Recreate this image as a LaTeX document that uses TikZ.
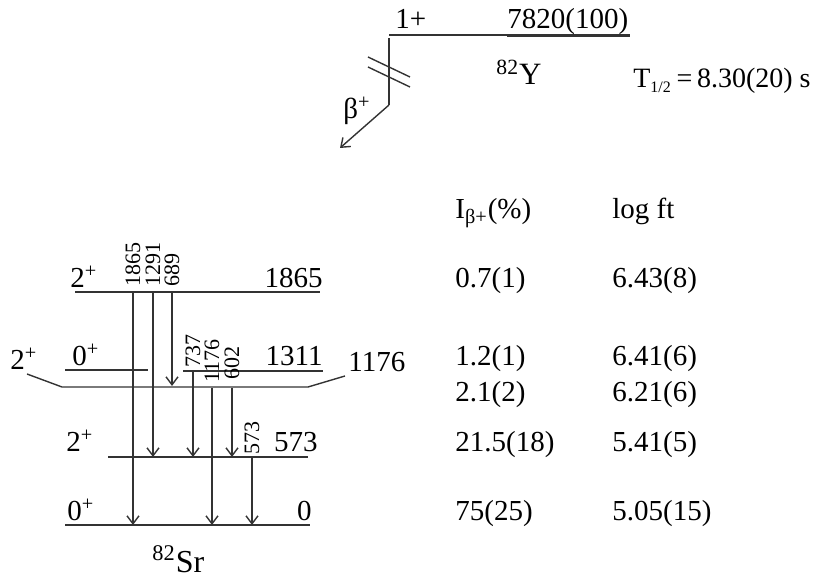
\documentclass[tikz,border=0pt]{standalone}
\usepackage{fontspec}
\setmainfont{Liberation Serif}
\usetikzlibrary{arrows.meta}

\tikzset{
  lvl/.style={line width=0.7pt, black!80},
  gam/.style={-{Straight Barb[length=4pt,width=6pt]}, line width=0.7pt, black!80},
  txt/.style={font=\fontsize{14.5}{16}\selectfont, inner sep=0pt},
  gtxt/.style={font=\fontsize{11}{12}\selectfont, inner sep=0pt, rotate=90},
}

\begin{document}
\begin{tikzpicture}[x=0.5pt, y=-0.5pt]
    \useasboundingbox (0,0) rectangle (816,577);

    % Parent level 82Y
    \draw[lvl] (389,35) -- (630,35);
    \draw[line width=1.1pt, black!80] (507,36) -- (630,36);
    \node[txt, anchor=base west] (jp) at (395,29) {1+};
    \node[txt, anchor=base west] (ep) at (507,29) {7820(100)};
    \node[txt, anchor=base west, font=\fontsize{15.5}{17}\selectfont] (yy) at (496,85) {\textsuperscript{82}Y};
    \node[txt, anchor=base east, font=\fontsize{14}{16}\selectfont] (thalf) at (811,88) {T\textsubscript{\fontsize{8}{9}\selectfont 1/2}\,=\,8.30(20) s};

    % Beta branch with break marks
    \coordinate (bt) at (389,38);
    \coordinate (bk) at (389,105);
    \coordinate (btip) at (340,148);
    \draw[lvl] (bt) -- (bk);
    \draw[gam] (bk) -- (btip);
    \draw[lvl] (368,57) -- (410,77);
    \draw[lvl] (368,67) -- (410,87);
    \node[txt, anchor=base west] (beta) at (343,119) {β\textsuperscript{+}};

    % Column headers
    \node[txt, anchor=base west] (hI) at (455,219) {I\textsubscript{β+}(\%)};
    \node[txt, anchor=base west] (hft) at (612,219) {log ft};

    % Daughter levels 82Sr
    \draw[lvl] (75,292) -- (320,292);
    \draw[lvl] (65,370) -- (148,370);
    \draw[lvl] (183,371) -- (323,371);
    \draw[lvl] (27,374) -- (62,387) -- (308,387) -- (345,376);
    \draw[lvl] (108,457) -- (308,457);
    \draw[lvl] (65,525) -- (310,525);

    % Level labels
    \node[txt, anchor=base west] (s1865) at (70,288) {2\textsuperscript{+}};
    \node[txt, anchor=base east] (e1865) at (323,288) {1865};
    \node[txt, anchor=base west] (s1311) at (72,366) {0\textsuperscript{+}};
    \node[txt, anchor=base east] (e1311) at (323,366) {1311};
    \node[txt, anchor=base west] (s1176) at (10,370) {2\textsuperscript{+}};
    \node[txt, anchor=base west] (e1176) at (348,372) {1176};
    \node[txt, anchor=base west] (s573) at (66,452) {2\textsuperscript{+}};
    \node[txt, anchor=base east] (e573) at (318,452) {573};
    \node[txt, anchor=base west] (s0) at (67,521) {0\textsuperscript{+}};
    \node[txt, anchor=base east] (e0) at (312,521) {0};
    \node[txt, anchor=base west, font=\fontsize{16}{18}\selectfont] (sr) at (152,573) {\textsuperscript{82}Sr};

    % Gamma transitions: x / from / to / energy / label y
    \foreach \gx/\gt/\gb/\ge/\gy in {133/292/525/1865/265, 153/292/457/1291/265,
        172/292/386/689/270, 193/371/457/737/351, 212/388/525/1176/361,
        232/388/457/602/363, 252/457/525/573/438} {
        \draw[gam] (\gx,\gt) -- (\gx,\gb);
        \node[gtxt] (g\ge) at (\gx,\gy) {\ge};
    }

    % Beta intensities and log ft
    \foreach \ry/\ri/\rf [count=\k] in {288/0.7(1)/6.43(8), 366/1.2(1)/6.41(6),
        402/2.1(2)/6.21(6), 452/21.5(18)/5.41(5), 521/75(25)/5.05(15)} {
        \node[txt, anchor=base west] (ib\k) at (455,\ry) {\ri};
        \node[txt, anchor=base west] (ft\k) at (612,\ry) {\rf};
    }
\end{tikzpicture}
\end{document}
